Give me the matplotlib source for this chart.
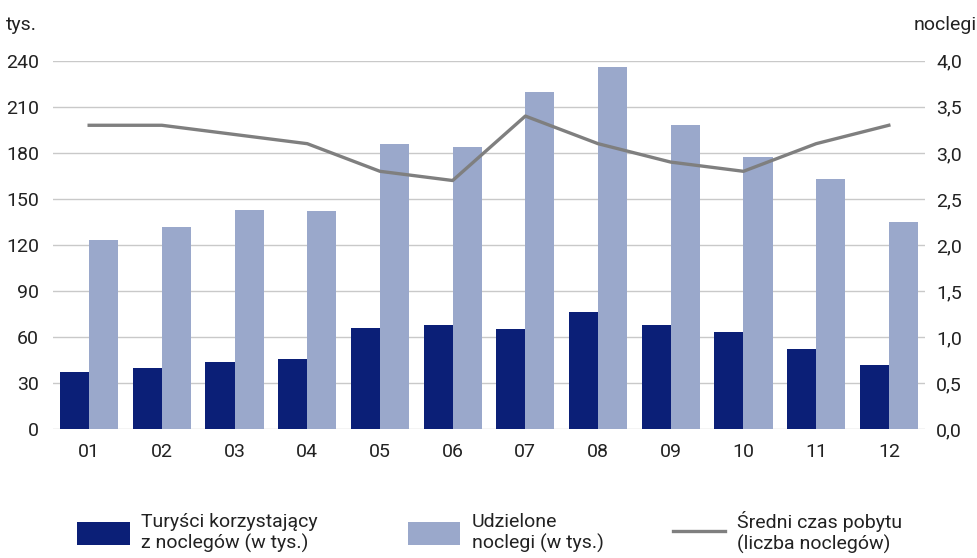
import matplotlib
matplotlib.use("Agg")
import matplotlib.pyplot as plt
import numpy as np

plt.rcParams['font.family'] = ['Roboto', 'DejaVu Sans']

# Data
months = ['01', '02', '03', '04', '05', '06', '07', '08', '09', '10', '11', '12']
tourists = [37, 40, 44, 46, 66, 68, 65, 76, 68, 63, 52, 42]
nights = [123, 132, 143, 142, 186, 184, 220, 236, 198, 177, 163, 135]
avg_stay = [3.3, 3.3, 3.2, 3.1, 2.8, 2.7, 3.4, 3.1, 2.9, 2.8, 3.1, 3.3]

left_ticks = [0, 30, 60, 90, 120, 150, 180, 210, 240]
right_ticks = [0.0, 0.5, 1.0, 1.5, 2.0, 2.5, 3.0, 3.5, 4.0]

DARK = '#0b1f77'
LIGHT = '#9aa8cb'
GRAY = '#7f7f7f'
GRID = '#c9c9c9'
TXT = '#222222'

fig = plt.figure(figsize=(9.78, 5.58), dpi=100)
ax = fig.add_axes([0.054, 0.231, 0.892, 0.66])
ax2 = ax.twinx()

x = np.arange(len(months))
w = 0.4
b1 = ax.bar(x - w / 2, tourists, w, color=DARK, zorder=3,
            label='Turyści korzystający\nz noclegów (w tys.)')
b2 = ax.bar(x + w / 2, nights, w, color=LIGHT, zorder=3,
            label='Udzielone\nnoclegi (w tys.)')
ln, = ax2.plot(x, avg_stay, color=GRAY, lw=2.4, zorder=4,
               label='Średni czas pobytu\n(liczba noclegów)')

ax.set_xlim(-0.5, len(months) - 0.5)
ax.set_ylim(0, 240)
ax2.set_ylim(0, 4.0)
ax.set_yticks(left_ticks)
ax2.set_yticks(right_ticks)
ax2.set_yticklabels([f'{v:.1f}'.replace('.', ',') for v in right_ticks])
ax.set_xticks(x)
ax.set_xticklabels(months)

ax.grid(axis='y', color=GRID, lw=1.0, zorder=0)
ax.set_axisbelow(True)
for a in (ax, ax2):
    for s in a.spines.values():
        s.set_visible(False)
    a.tick_params(length=0, labelsize=14, colors=TXT)
ax.tick_params(axis='y', pad=10)
ax2.tick_params(axis='y', pad=8)
ax.tick_params(axis='x', pad=10)

fig.text(0.006, 0.955, 'tys.', fontsize=14, color=TXT, va='center')
fig.text(0.999, 0.955, 'noclegi', fontsize=14, color=TXT, va='center', ha='right')

# legend: one entry per block, placed like the reference
for h, xpos in zip([b1, b2, ln], [0.079, 0.417, 0.688]):
    fig.legend(handles=[h], loc='center left', bbox_to_anchor=(xpos, 0.045),
               frameon=False, fontsize=14, handlelength=2.7, handleheight=1.45,
               handletextpad=0.6, borderpad=0, borderaxespad=0, labelcolor=TXT,
               labelspacing=0.1)

fig.savefig('out.png', dpi=100)
